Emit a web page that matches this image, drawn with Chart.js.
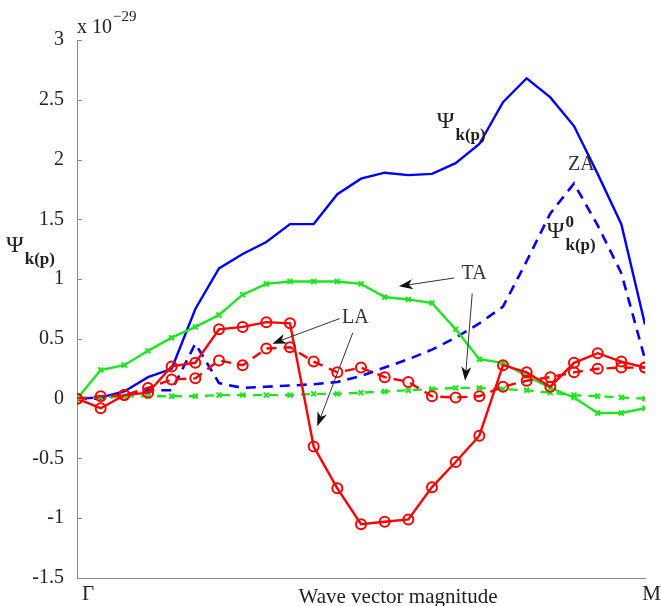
<!DOCTYPE html>
<html>
<head>
<meta charset="utf-8">
<script src="https://cdn.jsdelivr.net/npm/chart.js@4.4.0/dist/chart.umd.min.js"></script>
<style>
  html, body { margin: 0; padding: 0; background: #fff; }
  #wrap { width: 661px; height: 606px; }
</style>
</head>
<body>
<div id="wrap"><canvas id="chart" width="661" height="606"></canvas></div>
<script>
// sample index along Γ -> M (25 points)
const kPoints = [0, 1, 2, 3, 4, 5, 6, 7, 8, 9, 10, 11, 12, 13, 14, 15, 16, 17, 18, 19, 20, 21, 22, 23, 24];
const yTicks = [-1.5, -1, -0.5, 0, 0.5, 1, 1.5, 2, 2.5, 3];
const xTickLabels = ['Γ', 'M'];

// values in units of 1e-29
const zaPsi  = [0, 0.01, 0.06, 0.18, 0.25, 0.75, 1.09, 1.21, 1.31, 1.46, 1.46, 1.71, 1.84, 1.89, 1.87, 1.88, 1.97, 2.13, 2.48, 2.68, 2.52, 2.28, 1.88, 1.46, 0.62];
const zaPsi0 = [0, 0.0, 0.03, 0.07, 0.07, 0.46, 0.13, 0.09, 0.10, 0.11, 0.12, 0.14, 0.19, 0.26, 0.33, 0.41, 0.51, 0.63, 0.77, 1.15, 1.55, 1.80, 1.45, 1.05, 0.33];
const taPsi  = [0, 0.24, 0.28, 0.40, 0.51, 0.60, 0.70, 0.87, 0.96, 0.98, 0.98, 0.98, 0.96, 0.85, 0.83, 0.80, 0.58, 0.33, 0.30, 0.19, 0.09, 0.01, -0.12, -0.12, -0.08];
const taPsi0 = [0, 0.01, 0.02, 0.02, 0.02, 0.02, 0.03, 0.03, 0.03, 0.03, 0.04, 0.04, 0.05, 0.06, 0.07, 0.08, 0.09, 0.09, 0.08, 0.07, 0.05, 0.03, 0.02, 0.01, 0.0];
const laPsi  = [0, -0.08, 0.03, 0.05, 0.27, 0.30, 0.58, 0.60, 0.64, 0.63, -0.40, -0.75, -1.05, -1.03, -1.01, -0.74, -0.53, -0.31, 0.28, 0.22, 0.10, 0.30, 0.38, 0.31, 0.26];
const laPsi0 = [0, 0.02, 0.03, 0.09, 0.16, 0.17, 0.32, 0.28, 0.42, 0.43, 0.31, 0.22, 0.26, 0.18, 0.14, 0.02, 0.01, 0.02, 0.10, 0.15, 0.18, 0.22, 0.25, 0.26, 0.26];

const SERIF = '"Liberation Serif", "Times New Roman", serif';

function pts(vals) {
  return kPoints.map((k, i) => ({ x: k, y: vals[i] }));
}

function drawArrow(ctx, x1, y1, x2, y2) {
  const ang = Math.atan2(y2 - y1, x2 - x1);
  const len = 14, half = 5, notch = 10;
  ctx.save();
  ctx.strokeStyle = '#333';
  ctx.lineWidth = 1;
  ctx.beginPath();
  ctx.moveTo(x1, y1);
  ctx.lineTo(x2 - Math.cos(ang) * notch, y2 - Math.sin(ang) * notch);
  ctx.stroke();
  ctx.translate(x2, y2);
  ctx.rotate(ang);
  ctx.fillStyle = '#111';
  ctx.beginPath();
  ctx.moveTo(0, 0);
  ctx.lineTo(-len, -half);
  ctx.lineTo(-notch, 0);
  ctx.lineTo(-len, half);
  ctx.closePath();
  ctx.fill();
  ctx.restore();
}

// Ψ with optional superscript and bold subscript
function drawPsi(ctx, x, y, sup) {
  ctx.font = '24px ' + SERIF;
  ctx.fillText('Ψ', x, y);
  const w = ctx.measureText('Ψ').width;
  ctx.font = 'bold 17px ' + SERIF;
  if (sup) ctx.fillText(sup, x + w + 1, y - 11);
  ctx.fillText('k(p)', x + w + 1, y + 12);
}

const labelsPlugin = {
  id: 'labels',
  afterDraw(chart) {
    const { ctx, chartArea: a, scales: { x, y } } = chart;
    ctx.save();
    // inward ticks on left axis
    ctx.strokeStyle = '#8a8a8a';
    ctx.lineWidth = 1;
    yTicks.forEach(v => {
      const py = Math.round(y.getPixelForValue(v)) + 0.5;
      ctx.beginPath();
      ctx.moveTo(a.left, py);
      ctx.lineTo(a.left + 5, py);
      ctx.stroke();
    });

    ctx.fillStyle = '#222';
    ctx.textBaseline = 'alphabetic';
    // x tick labels
    ctx.font = '21px ' + SERIF;
    ctx.textAlign = 'left';
    ctx.fillText(xTickLabels[0], x.getPixelForValue(0) + 5, a.bottom + 22);
    ctx.textAlign = 'right';
    ctx.fillText(xTickLabels[1], chart.width, a.bottom + 22);
    ctx.textAlign = 'center';
    ctx.fillText('Wave vector magnitude', (a.left + a.right) / 2 + 37, a.bottom + 25);

    // exponent
    ctx.textAlign = 'left';
    ctx.font = '20px ' + SERIF;
    ctx.fillText('x 10', a.left, 33);
    ctx.font = '15px ' + SERIF;
    ctx.fillText('\u221229', a.left + 36, 21);

    // y axis label
    drawPsi(ctx, 6, 252, null);

    // curve labels
    drawPsi(ctx, x.getPixelForValue(15.2), y.getPixelForValue(2.26), null);
    drawPsi(ctx, x.getPixelForValue(19.85), y.getPixelForValue(1.34), '0');
    ctx.fillStyle = '#333';
    ctx.font = '20px ' + SERIF;
    ctx.fillText('ZA', x.getPixelForValue(20.75), y.getPixelForValue(1.91));
    ctx.fillText('TA', x.getPixelForValue(16.25), y.getPixelForValue(1.0));
    ctx.fillText('LA', x.getPixelForValue(11.2), y.getPixelForValue(0.63));

    const P = (dx, dy) => [x.getPixelForValue(dx), y.getPixelForValue(dy)];
    drawArrow(ctx, ...P(15.95, 1.01), ...P(13.6, 0.94));
    drawArrow(ctx, ...P(16.7, 0.88), ...P(16.4, 0.15));
    drawArrow(ctx, ...P(11.1, 0.67), ...P(8.25, 0.46));
    drawArrow(ctx, ...P(11.65, 0.55), ...P(10.15, -0.23));
    ctx.restore();
  }
};

const RED = '#ff0000', GREEN = '#1ee61e', BLUE = '#0000ff';

new Chart(document.getElementById('chart'), {
  type: 'line',
  data: {
    datasets: [
      { data: pts(laPsi), borderColor: RED, borderWidth: 2.4, pointStyle: 'circle', pointRadius: 5,
        pointBorderWidth: 2, pointBorderColor: RED, pointBackgroundColor: 'rgba(0,0,0,0)' },
      { data: pts(laPsi0), borderColor: RED, borderWidth: 2.4, borderDash: [10, 7], pointStyle: 'circle', pointRadius: 5,
        pointBorderWidth: 2, pointBorderColor: RED, pointBackgroundColor: 'rgba(0,0,0,0)' },
      { data: pts(taPsi), borderColor: GREEN, borderWidth: 2.4, pointStyle: 'crossRot', pointRadius: 3.5,
        pointBorderWidth: 2, pointBorderColor: GREEN },
      { data: pts(taPsi0), borderColor: GREEN, borderWidth: 2.4, borderDash: [9, 7], pointStyle: 'crossRot', pointRadius: 3.5,
        pointBorderWidth: 2, pointBorderColor: GREEN },
      { data: pts(zaPsi), borderColor: BLUE, borderWidth: 2.4, pointRadius: 0 },
      { data: pts(zaPsi0), borderColor: BLUE, borderWidth: 2.6, borderDash: [10, 7], pointRadius: 0 }
    ]
  },
  options: {
    responsive: false,
    animation: false,
    events: [],
    layout: { padding: { top: 40, right: 16, left: 0, bottom: 0 } },
    elements: { line: { tension: 0, fill: false } },
    plugins: { legend: { display: false }, tooltip: { enabled: false } },
    scales: {
      x: {
        type: 'linear', min: 0, max: 24,
        grid: { display: false },
        border: { display: true, color: '#8a8a8a', width: 1 },
        ticks: { display: false },
        afterFit: s => { s.height = 28; }
      },
      y: {
        type: 'linear', min: -1.5, max: 3,
        grid: { display: false },
        border: { display: true, color: '#8a8a8a', width: 1 },
        ticks: {
          stepSize: 0.5, padding: 5, color: '#222',
          font: { family: SERIF, size: 20 },
          callback: v => String(Math.round(v * 10) / 10)
        },
        afterFit: s => { s.width = 77; }
      }
    }
  },
  plugins: [labelsPlugin]
});
</script>
</body>
</html>
